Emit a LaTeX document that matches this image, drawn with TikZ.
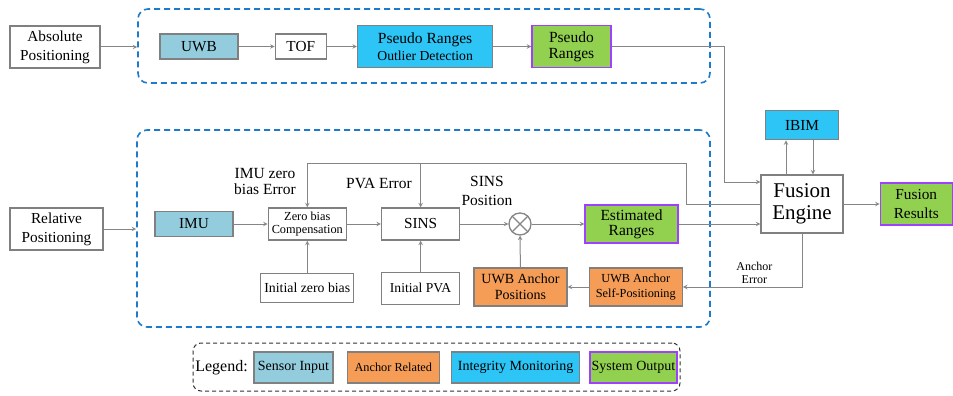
\documentclass[tikz,border=0pt]{standalone}
\usepackage{fontspec}
\newfontfamily\diagfont{Liberation Serif}
\usepackage{xcolor}
\usepackage{tikz}
\usetikzlibrary{positioning}

\definecolor{sensorblue}{HTML}{93CDDD}
\definecolor{monitorcyan}{HTML}{2CC5F6}
\definecolor{anchororange}{HTML}{F59D56}
\definecolor{outgreen}{HTML}{92D050}
\definecolor{outpurple}{HTML}{A040FF}
\definecolor{boxgray}{HTML}{808080}
\definecolor{linegray}{HTML}{858585}
\definecolor{grpblue}{HTML}{1E7BCB}

\begin{document}
\begin{tikzpicture}[
  x=1pt, y=-1pt,
  box/.style={draw=boxgray, line width=1.3pt, align=center, inner sep=1pt, fill=white, font=\diagfont\fontsize{15.3}{19}\selectfont},
  sensor/.style={box, fill=sensorblue},
  anchorbox/.style={box, fill=anchororange},
  monitor/.style={box, fill=monitorcyan},
  outbox/.style={box, fill=outgreen, draw=outpurple},
  grp/.style={draw=grpblue, line width=1.6pt, dash pattern=on 6pt off 4pt, rounded corners=10pt},
  arr/.style={->, >=stealth, draw=linegray, line width=1pt},
  lbl/.style={font=\diagfont\fontsize{15.5}{16}\selectfont, align=center},
]
\useasboundingbox (0,0) rectangle (953,396);

% Absolute positioning
\node[box, minimum width=90pt, minimum height=42pt] (abs) at (55,47) {Absolute\\Positioning};
\node[grp, minimum width=572pt, minimum height=74pt] (topgrp) at (424,46) {};
\draw[arr] (abs.east) -- (abs.east -| topgrp.west);

\node[sensor, minimum width=78pt, minimum height=25pt] (uwb) at (199,46.5) {UWB};
\node[box, right=36pt of uwb, minimum width=51pt, minimum height=25pt] (tof) {TOF};
\node[monitor, right=30pt of tof, minimum width=135pt, minimum height=42pt, font=\diagfont\fontsize{15.5}{16.5}\selectfont] (outlier) {Pseudo Ranges\\{\fontsize{13.7}{16.5}\selectfont Outlier Detection}};
\node[outbox, right=38pt of outlier, minimum width=79pt, minimum height=42pt, font=\diagfont\fontsize{15.5}{16}\selectfont] (pseudo) {Pseudo\\Ranges};

% Relative positioning
\node[box, minimum width=93pt, minimum height=42pt] (rel) at (56.5,229) {Relative\\Positioning};
\node[grp, minimum width=573pt, minimum height=197pt] (botgrp) at (423.5,228.5) {};
\draw[arr] (rel.east) -- (rel.east -| botgrp.west);

\node[sensor, minimum width=78pt, minimum height=25pt] (imu) at (194,224) {IMU};
\node[box, right=34pt of imu, minimum width=78pt, minimum height=32pt, font=\diagfont\fontsize{12.3}{13}\selectfont] (zbc) {Zero bias\\Compensation};
\node[box, right=34pt of zbc, minimum width=78pt, minimum height=32pt] (sins) {SINS};
\node[box, below=32pt of zbc, minimum width=93pt, minimum height=29pt, font=\diagfont\fontsize{13.8}{15}\selectfont] (izb) {Initial zero bias};
\node[box, below=31pt of sins, minimum width=78pt, minimum height=32pt, font=\diagfont\fontsize{13.6}{15}\selectfont] (ipva) {Initial PVA};

\node[circle, draw=linegray, line width=1.3pt, minimum size=22pt, inner sep=0pt] (mix) at (520,224) {};
\draw[linegray, line width=1.3pt] (mix.north east) -- (mix.south west) (mix.north west) -- (mix.south east);
\node[outbox, minimum width=93pt, minimum height=38pt, font=\diagfont\fontsize{15.5}{15}\selectfont] (est) at (631.5,224) {Estimated\\Ranges};
\node[anchorbox, minimum width=93pt, minimum height=38pt, font=\diagfont\fontsize{14}{15.7}\selectfont] (uap) at (520.5,287) {UWB Anchor\\Positions};
\node[anchorbox, right=21pt of uap, minimum width=93pt, minimum height=38pt, font=\diagfont\fontsize{12.3}{15}\selectfont] (uasp) {UWB Anchor\\Self-Positioning};

\node[lbl] (zbelbl) at (265,181) {IMU zero\\bias Error};
\node[lbl] (pvalbl) at (379,183) {PVA Error};
\node[lbl, font=\diagfont\fontsize{15.5}{19}\selectfont] (poslbl) at (487,191) {SINS\\Position};

% Fusion
\node[box, minimum width=82pt, minimum height=58pt, font=\diagfont\fontsize{21}{22}\selectfont] (fusion) at (802,204) {Fusion\\Engine};
\node[monitor, above=34pt of fusion, minimum width=73pt, minimum height=29pt] (ibim) {IBIM};
\node[outbox, right=36pt of fusion, minimum width=72pt, minimum height=42pt] (result) {Fusion\\Results};

% Connectors
\draw[arr] (uwb) -- (tof);
\draw[arr] (tof) -- (outlier);
\draw[arr] (outlier) -- (pseudo);
\coordinate (inpr) at (724,182);
\draw[arr] (pseudo.east) -| (inpr) -- (inpr -| fusion.west);

\draw[arr] (imu) -- (zbc);
\draw[arr] (zbc) -- (sins);
\draw[arr] (sins) -- (mix);
\draw[arr] (mix) -- (est);
\draw[arr] (izb) -- (zbc);
\draw[arr] (ipva) -- (sins);
\draw[arr] (uap) -- (mix);
\draw[arr] (uasp) -- (uap);
\draw[arr] (est.east) -- (est.east -| fusion.west);
\draw[arr] (fusion) -- (result);
\draw[arr] ([xshift=-16pt]fusion.north) -- ([xshift=-16pt]ibim.south);
\draw[arr] ([xshift=11pt]ibim.south) -- ([xshift=11pt]fusion.north);
\draw[arr] (fusion.south) |- node[pos=0.7, above, font=\diagfont\fontsize{12}{12.5}\selectfont, align=center] {Anchor\\Error} (uasp.east);

% Error feedback
\coordinate (fbk) at (686,163);
\draw[draw=linegray, line width=1pt] (fusion.west) -| (fbk) -- (fbk -| zbc.north);
\draw[arr] (fbk -| zbc.north) -- (zbc.north);
\draw[arr] (fbk -| sins.north) -- (sins.north);

% Legend
\node[draw=black!80, line width=1pt, dash pattern=on 4pt off 3pt, rounded corners=8pt, minimum width=487pt, minimum height=48pt] (legend) at (436.5,367) {};
\node[font=\diagfont\fontsize{16}{18}\selectfont] (lgdtitle) at (221.5,368) {Legend:};
\node[sensor, minimum width=79pt, minimum height=31pt, font=\diagfont\fontsize{14}{16}\selectfont] (lgsensor) at (293.5,367.5) {Sensor Input};
\node[anchorbox, right=13pt of lgsensor, minimum width=92pt, minimum height=31pt, font=\diagfont\fontsize{12.3}{14}\selectfont] (lganchor) {Anchor Related};
\node[monitor, right=11pt of lganchor, minimum width=128pt, minimum height=31pt, font=\diagfont\fontsize{14}{15}\selectfont] (lgmon) {Integrity Monitoring};
\node[outbox, right=9pt of lgmon, minimum width=87pt, minimum height=31pt, font=\diagfont\fontsize{14}{16}\selectfont] (lgout) {System Output};
\end{tikzpicture}
\end{document}
